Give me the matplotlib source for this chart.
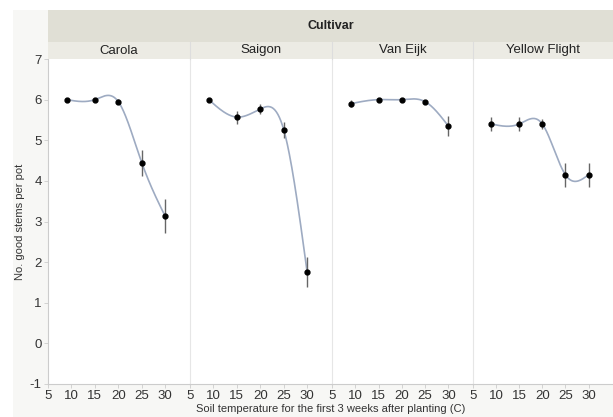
import numpy as np
import matplotlib
matplotlib.use("Agg")
import matplotlib.pyplot as plt
from matplotlib.patches import Rectangle

plt.rcParams["font.family"] = ["Liberation Sans", "DejaVu Sans"]
plt.rcParams["axes.unicode_minus"] = False

cultivars = ["Carola", "Saigon", "Van Eijk", "Yellow Flight"]
temps = [9, 15, 20, 25, 30]
carola = [6.0, 6.0, 5.95, 4.45, 3.13]
saigon = [6.0, 5.57, 5.77, 5.26, 1.75]
van_eijk = [5.9, 6.0, 6.0, 5.95, 5.35]
yellow_flight = [5.4, 5.4, 5.4, 4.15, 4.15]
carola_err = [0.03, 0.03, 0.06, 0.32, 0.42]
saigon_err = [0.03, 0.16, 0.12, 0.2, 0.37]
van_eijk_err = [0.08, 0.03, 0.03, 0.05, 0.24]
yellow_flight_err = [0.18, 0.18, 0.12, 0.3, 0.3]
values = [carola, saigon, van_eijk, yellow_flight]
errors = [carola_err, saigon_err, van_eijk_err, yellow_flight_err]
yticks = [-1, 0, 1, 2, 3, 4, 5, 6, 7]
xticks = [5, 10, 15, 20, 25, 30]


def natural_spline(x, y, xs):
    x = np.asarray(x, float)
    y = np.asarray(y, float)
    n = len(x)
    h = np.diff(x)
    A = np.zeros((n, n))
    b = np.zeros(n)
    A[0, 0] = 1
    A[-1, -1] = 1
    for i in range(1, n - 1):
        A[i, i - 1] = h[i - 1]
        A[i, i] = 2 * (h[i - 1] + h[i])
        A[i, i + 1] = h[i]
        b[i] = 3 * ((y[i + 1] - y[i]) / h[i] - (y[i] - y[i - 1]) / h[i - 1])
    c = np.linalg.solve(A, b)
    out = np.empty_like(xs)
    for k, xv in enumerate(xs):
        i = min(max(np.searchsorted(x, xv) - 1, 0), n - 2)
        dx = xv - x[i]
        bi = (y[i + 1] - y[i]) / h[i] - h[i] * (2 * c[i] + c[i + 1]) / 3
        di = (c[i + 1] - c[i]) / (3 * h[i])
        out[k] = y[i] + bi * dx + c[i] * dx ** 2 + di * dx ** 3
    return out


fig = plt.figure(figsize=(6.13, 4.17), dpi=100)
W, H = 613, 417
left_px = 48
edges = [48, 190, 332, 473, 613]
top_px, bot_px = 59, 384
strip_top = 42
head_top = 10

# light background frame
fig.patches.append(Rectangle((13 / W, 0), 1 - 13 / W, 1 - head_top / H, transform=fig.transFigure,
                             facecolor="#f7f7f5", edgecolor="none", zorder=-5))

axes = []
for i, name in enumerate(cultivars):
    x0 = edges[i] / W
    w = (edges[i + 1] - edges[i]) / W
    ax = fig.add_axes([x0, 1 - bot_px / H, w, (bot_px - top_px) / H])
    axes.append(ax)
    ax.set_facecolor("white")
    ax.set_xlim(5, 35.3)
    ax.set_ylim(-1, 7)
    xs = np.linspace(temps[0], temps[-1], 200)
    ax.plot(xs, natural_spline(temps, values[i], xs), color="#9eabc2", lw=1.2, zorder=2)
    ax.errorbar(temps, values[i], yerr=errors[i], fmt="o", color="black", ms=3.5,
                ecolor="#666666", elinewidth=1.0, capsize=0, zorder=3)
    ax.set_xticks(xticks)
    ax.set_yticks(yticks)
    ax.tick_params(axis="both", labelsize=9.5, colors="#cccccc", labelcolor="#333333",
                   length=3, width=0.6, pad=1.5)
    for s in ["top", "right"]:
        ax.spines[s].set_visible(False)
    ax.spines["bottom"].set_color("#cccccc")
    if i == 0:
        ax.spines["left"].set_color("#cccccc")
    else:
        ax.spines["left"].set_color("#e6e6e6")
        ax.tick_params(axis="y", left=False, labelleft=False)
    # strip
    fig.patches.append(Rectangle((x0, 1 - top_px / H), w, (top_px - strip_top) / H,
                                 transform=fig.transFigure, facecolor="#ecebe4",
                                 edgecolor="none", zorder=1))
    fig.text(x0 + w / 2, 1 - (top_px + strip_top) / 2 / H, name, ha="center", va="center",
             fontsize=9.5, color="#222222")
    if i > 0:
        fig.lines.append(plt.Line2D([x0, x0], [1 - top_px / H, 1 - strip_top / H],
                                    transform=fig.transFigure, color="#dddddd", lw=0.8))

# header
fig.patches.append(Rectangle((left_px / W, 1 - strip_top / H), (W - left_px) / W,
                             (strip_top - head_top) / H, transform=fig.transFigure,
                             facecolor="#e0dfd5", edgecolor="none", zorder=1))
fig.text((left_px + W) / 2 / W, 1 - (strip_top + head_top) / 2 / H, "Cultivar",
         ha="center", va="center", fontsize=9, fontweight="bold", color="#222222")

fig.text((left_px + W) / 2 / W, 1 - 409 / H, "Soil temperature for the first 3 weeks after planting (C)",
         ha="center", va="center", fontsize=8, color="#333333")
fig.text(20 / W, 1 - 222 / H, "No. good stems per pot", ha="center", va="center",
         rotation=90, fontsize=8, color="#333333")

fig.savefig("out.png", dpi=100)
